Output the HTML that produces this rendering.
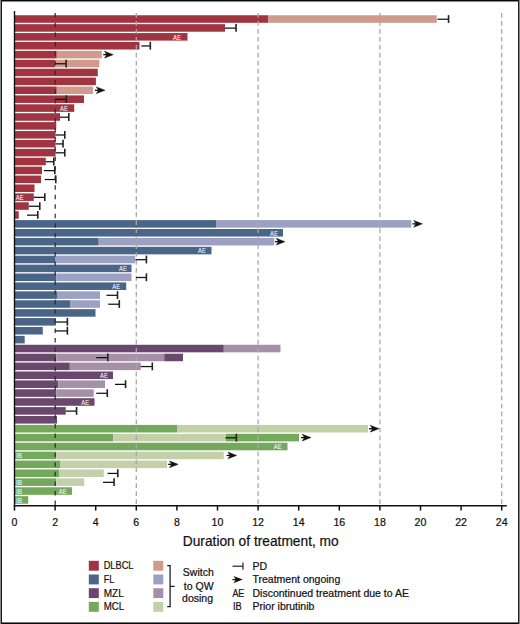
<!DOCTYPE html>
<html><head><meta charset="utf-8"><style>
html,body{margin:0;padding:0;background:#fff;}
body{width:520px;height:624px;position:relative;overflow:hidden;}
.frame{position:absolute;left:0;top:0;width:520px;height:624px;box-sizing:border-box;}
svg{position:absolute;left:0;top:0;font-family:"Liberation Sans",sans-serif;}
text.k{fill:#111;stroke:#111;stroke-width:0.22px;}
</style></head><body>
<svg width="520" height="624" viewBox="0 0 520 624">
<rect x="0" y="0" width="520" height="624" fill="#fff"/>
<rect x="14.50" y="15.25" width="253.80" height="7.55" fill="#A13441"/>
<rect x="268.30" y="15.25" width="168.45" height="7.55" fill="#CF9B8C"/>
<rect x="14.50" y="24.16" width="210.50" height="7.55" fill="#A13441"/>
<rect x="14.50" y="33.06" width="173.00" height="7.55" fill="#A13441"/>
<rect x="14.50" y="41.97" width="125.00" height="7.55" fill="#A13441"/>
<rect x="14.50" y="50.87" width="42.30" height="7.55" fill="#A13441"/>
<rect x="56.80" y="50.87" width="44.95" height="7.55" fill="#CF9B8C"/>
<rect x="14.50" y="59.78" width="40.70" height="7.55" fill="#A13441"/>
<rect x="55.20" y="59.78" width="44.20" height="7.55" fill="#CF9B8C"/>
<rect x="14.50" y="68.69" width="83.30" height="7.55" fill="#A13441"/>
<rect x="14.50" y="77.59" width="81.40" height="7.55" fill="#A13441"/>
<rect x="14.50" y="86.50" width="42.30" height="7.55" fill="#A13441"/>
<rect x="56.80" y="86.50" width="36.10" height="7.55" fill="#CF9B8C"/>
<rect x="14.50" y="95.40" width="69.50" height="7.55" fill="#A13441"/>
<rect x="14.50" y="104.31" width="59.75" height="7.55" fill="#A13441"/>
<rect x="14.50" y="113.22" width="45.50" height="7.55" fill="#A13441"/>
<rect x="14.50" y="122.12" width="41.75" height="7.55" fill="#A13441"/>
<rect x="14.50" y="131.03" width="41.00" height="7.55" fill="#A13441"/>
<rect x="14.50" y="139.93" width="41.00" height="7.55" fill="#A13441"/>
<rect x="14.50" y="148.84" width="41.00" height="7.55" fill="#A13441"/>
<rect x="14.50" y="157.75" width="31.30" height="7.55" fill="#A13441"/>
<rect x="14.50" y="166.65" width="27.50" height="7.55" fill="#A13441"/>
<rect x="14.50" y="175.56" width="26.50" height="7.55" fill="#A13441"/>
<rect x="14.50" y="184.46" width="20.00" height="7.55" fill="#A13441"/>
<rect x="14.50" y="193.37" width="19.25" height="7.55" fill="#A13441"/>
<rect x="14.50" y="202.28" width="14.25" height="7.55" fill="#A13441"/>
<rect x="14.50" y="211.18" width="4.25" height="7.55" fill="#A13441"/>
<rect x="14.50" y="220.09" width="201.50" height="7.55" fill="#4B6589"/>
<rect x="216.00" y="220.09" width="195.30" height="7.55" fill="#9CA1C3"/>
<rect x="14.50" y="228.99" width="268.50" height="7.55" fill="#4B6589"/>
<rect x="14.50" y="237.90" width="84.25" height="7.55" fill="#4B6589"/>
<rect x="98.75" y="237.90" width="175.45" height="7.55" fill="#9CA1C3"/>
<rect x="14.50" y="246.81" width="197.00" height="7.55" fill="#4B6589"/>
<rect x="14.50" y="255.71" width="40.50" height="7.55" fill="#4B6589"/>
<rect x="55.00" y="255.71" width="80.10" height="7.55" fill="#9CA1C3"/>
<rect x="14.50" y="264.62" width="117.00" height="7.55" fill="#4B6589"/>
<rect x="14.50" y="273.52" width="41.75" height="7.55" fill="#4B6589"/>
<rect x="56.25" y="273.52" width="75.25" height="7.55" fill="#9CA1C3"/>
<rect x="14.50" y="282.43" width="111.70" height="7.55" fill="#4B6589"/>
<rect x="14.50" y="291.34" width="42.50" height="7.55" fill="#4B6589"/>
<rect x="57.00" y="291.34" width="43.00" height="7.55" fill="#9CA1C3"/>
<rect x="14.50" y="300.24" width="55.50" height="7.55" fill="#4B6589"/>
<rect x="70.00" y="300.24" width="30.00" height="7.55" fill="#9CA1C3"/>
<rect x="14.50" y="309.15" width="81.00" height="7.55" fill="#4B6589"/>
<rect x="14.50" y="318.05" width="41.40" height="7.55" fill="#4B6589"/>
<rect x="14.50" y="326.96" width="28.30" height="7.55" fill="#4B6589"/>
<rect x="14.50" y="335.87" width="10.20" height="7.55" fill="#4B6589"/>
<rect x="14.50" y="344.77" width="209.30" height="7.55" fill="#6A476C"/>
<rect x="223.80" y="344.77" width="56.70" height="7.55" fill="#A690A8"/>
<rect x="14.50" y="353.68" width="41.75" height="7.55" fill="#6A476C"/>
<rect x="56.25" y="353.68" width="108.00" height="7.55" fill="#A690A8"/>
<rect x="164.25" y="353.68" width="18.75" height="7.55" fill="#6A476C"/>
<rect x="14.50" y="362.58" width="55.30" height="7.55" fill="#6A476C"/>
<rect x="69.80" y="362.58" width="70.95" height="7.55" fill="#A690A8"/>
<rect x="14.50" y="371.49" width="98.50" height="7.55" fill="#6A476C"/>
<rect x="14.50" y="380.40" width="43.75" height="7.55" fill="#6A476C"/>
<rect x="58.25" y="380.40" width="46.75" height="7.55" fill="#A690A8"/>
<rect x="14.50" y="389.30" width="41.75" height="7.55" fill="#6A476C"/>
<rect x="56.25" y="389.30" width="37.50" height="7.55" fill="#A690A8"/>
<rect x="14.50" y="398.21" width="80.00" height="7.55" fill="#6A476C"/>
<rect x="14.50" y="407.11" width="51.25" height="7.55" fill="#6A476C"/>
<rect x="14.50" y="416.02" width="42.50" height="7.55" fill="#6A476C"/>
<rect x="14.50" y="424.93" width="163.00" height="7.55" fill="#74A85C"/>
<rect x="177.50" y="424.93" width="190.50" height="7.55" fill="#C4D0A9"/>
<rect x="14.50" y="433.83" width="98.70" height="7.55" fill="#74A85C"/>
<rect x="113.20" y="433.83" width="112.80" height="7.55" fill="#C4D0A9"/>
<rect x="226.00" y="433.83" width="73.00" height="7.55" fill="#74A85C"/>
<rect x="14.50" y="442.74" width="273.00" height="7.55" fill="#74A85C"/>
<rect x="14.50" y="451.64" width="41.75" height="7.55" fill="#74A85C"/>
<rect x="56.25" y="451.64" width="167.50" height="7.55" fill="#C4D0A9"/>
<rect x="14.50" y="460.55" width="46.00" height="7.55" fill="#74A85C"/>
<rect x="60.50" y="460.55" width="106.50" height="7.55" fill="#C4D0A9"/>
<rect x="14.50" y="469.46" width="44.75" height="7.55" fill="#74A85C"/>
<rect x="59.25" y="469.46" width="44.50" height="7.55" fill="#C4D0A9"/>
<rect x="14.50" y="478.36" width="41.75" height="7.55" fill="#74A85C"/>
<rect x="56.25" y="478.36" width="28.00" height="7.55" fill="#C4D0A9"/>
<rect x="14.50" y="487.27" width="57.50" height="7.55" fill="#74A85C"/>
<rect x="14.50" y="496.17" width="13.75" height="7.55" fill="#74A85C"/>
<line x1="136.30" y1="13.0" x2="136.30" y2="505" stroke="#a8a8a8" stroke-width="1.3" stroke-dasharray="4.7 3.272"/>
<line x1="258.10" y1="13.0" x2="258.10" y2="505" stroke="#a8a8a8" stroke-width="1.3" stroke-dasharray="4.7 3.272"/>
<line x1="379.90" y1="13.0" x2="379.90" y2="505" stroke="#a8a8a8" stroke-width="1.3" stroke-dasharray="4.7 3.272"/>
<line x1="501.70" y1="13.0" x2="501.70" y2="505" stroke="#a8a8a8" stroke-width="1.3" stroke-dasharray="4.7 3.272"/>
<line x1="55.2" y1="13.1" x2="55.2" y2="505" stroke="#2a2a2a" stroke-width="1.2" stroke-dasharray="4.5 5.057"/>
<line x1="437.50" y1="19.22" x2="448.55" y2="19.22" stroke="#111" stroke-width="1.25"/>
<line x1="448.55" y1="15.12" x2="448.55" y2="22.92" stroke="#222" stroke-width="1.6"/>
<line x1="225.00" y1="28.13" x2="236.05" y2="28.13" stroke="#111" stroke-width="1.25"/>
<line x1="236.05" y1="24.03" x2="236.05" y2="31.83" stroke="#222" stroke-width="1.6"/>
<text x="173.00" y="39.69" font-size="7.6" fill="#fff" textLength="7.8" lengthAdjust="spacingAndGlyphs">AE</text>
<line x1="141.25" y1="45.94" x2="150.30" y2="45.94" stroke="#111" stroke-width="1.25"/>
<line x1="150.30" y1="41.84" x2="150.30" y2="49.64" stroke="#222" stroke-width="1.6"/>
<line x1="103.20" y1="54.65" x2="107.20" y2="54.65" stroke="#111" stroke-width="1.3"/>
<path d="M104.55 51.30 L113.20 54.65 L104.55 58.00 L106.80 54.65 Z" fill="#111" stroke="#111" stroke-width="0.5" stroke-linejoin="round"/>
<line x1="55.30" y1="63.76" x2="66.10" y2="63.76" stroke="#111" stroke-width="1.25"/>
<line x1="66.10" y1="59.66" x2="66.10" y2="67.45" stroke="#222" stroke-width="1.6"/>
<line x1="95.00" y1="90.27" x2="99.00" y2="90.27" stroke="#111" stroke-width="1.3"/>
<path d="M96.35 86.92 L105.00 90.27 L96.35 93.62 L98.60 90.27 Z" fill="#111" stroke="#111" stroke-width="0.5" stroke-linejoin="round"/>
<line x1="55.30" y1="99.38" x2="66.30" y2="99.38" stroke="#111" stroke-width="1.25"/>
<line x1="66.30" y1="95.28" x2="66.30" y2="103.08" stroke="#222" stroke-width="1.6"/>
<text x="60.00" y="110.94" font-size="7.6" fill="#fff" textLength="7.8" lengthAdjust="spacingAndGlyphs">AE</text>
<line x1="60.00" y1="117.19" x2="68.80" y2="117.19" stroke="#111" stroke-width="1.25"/>
<line x1="68.80" y1="113.09" x2="68.80" y2="120.89" stroke="#222" stroke-width="1.6"/>
<line x1="55.50" y1="135.00" x2="64.80" y2="135.00" stroke="#111" stroke-width="1.25"/>
<line x1="64.80" y1="130.90" x2="64.80" y2="138.70" stroke="#222" stroke-width="1.6"/>
<line x1="55.50" y1="143.91" x2="63.05" y2="143.91" stroke="#111" stroke-width="1.25"/>
<line x1="63.05" y1="139.81" x2="63.05" y2="147.61" stroke="#222" stroke-width="1.6"/>
<line x1="55.50" y1="152.81" x2="64.80" y2="152.81" stroke="#111" stroke-width="1.25"/>
<line x1="64.80" y1="148.72" x2="64.80" y2="156.52" stroke="#222" stroke-width="1.6"/>
<line x1="45.80" y1="161.72" x2="53.80" y2="161.72" stroke="#111" stroke-width="1.25"/>
<line x1="53.80" y1="157.62" x2="53.80" y2="165.42" stroke="#222" stroke-width="1.6"/>
<line x1="43.80" y1="170.63" x2="54.80" y2="170.63" stroke="#111" stroke-width="1.25"/>
<line x1="54.80" y1="166.53" x2="54.80" y2="174.33" stroke="#222" stroke-width="1.6"/>
<line x1="44.80" y1="179.53" x2="55.80" y2="179.53" stroke="#111" stroke-width="1.25"/>
<line x1="55.80" y1="175.43" x2="55.80" y2="183.23" stroke="#222" stroke-width="1.6"/>
<text x="15.80" y="200.00" font-size="7.6" fill="#fff" textLength="7.8" lengthAdjust="spacingAndGlyphs">AE</text>
<line x1="33.75" y1="197.34" x2="44.80" y2="197.34" stroke="#111" stroke-width="1.25"/>
<line x1="44.80" y1="193.25" x2="44.80" y2="201.05" stroke="#222" stroke-width="1.6"/>
<line x1="28.75" y1="206.25" x2="39.80" y2="206.25" stroke="#111" stroke-width="1.25"/>
<line x1="39.80" y1="202.15" x2="39.80" y2="209.95" stroke="#222" stroke-width="1.6"/>
<line x1="27.00" y1="215.16" x2="37.80" y2="215.16" stroke="#111" stroke-width="1.25"/>
<line x1="37.80" y1="211.06" x2="37.80" y2="218.86" stroke="#222" stroke-width="1.6"/>
<line x1="412.40" y1="223.86" x2="416.40" y2="223.86" stroke="#111" stroke-width="1.3"/>
<path d="M413.75 220.51 L422.40 223.86 L413.75 227.21 L416.00 223.86 Z" fill="#111" stroke="#111" stroke-width="0.5" stroke-linejoin="round"/>
<text x="270.00" y="235.62" font-size="7.6" fill="#fff" textLength="7.8" lengthAdjust="spacingAndGlyphs">AE</text>
<line x1="274.90" y1="241.68" x2="278.90" y2="241.68" stroke="#111" stroke-width="1.3"/>
<path d="M276.25 238.33 L284.90 241.68 L276.25 245.03 L278.50 241.68 Z" fill="#111" stroke="#111" stroke-width="0.5" stroke-linejoin="round"/>
<text x="198.00" y="253.43" font-size="7.6" fill="#fff" textLength="7.8" lengthAdjust="spacingAndGlyphs">AE</text>
<line x1="135.30" y1="259.69" x2="146.40" y2="259.69" stroke="#111" stroke-width="1.25"/>
<line x1="146.40" y1="255.59" x2="146.40" y2="263.39" stroke="#222" stroke-width="1.6"/>
<text x="119.00" y="271.24" font-size="7.6" fill="#fff" textLength="7.8" lengthAdjust="spacingAndGlyphs">AE</text>
<line x1="136.20" y1="277.50" x2="146.40" y2="277.50" stroke="#111" stroke-width="1.25"/>
<line x1="146.40" y1="273.40" x2="146.40" y2="281.20" stroke="#222" stroke-width="1.6"/>
<text x="112.30" y="289.06" font-size="7.6" fill="#fff" textLength="7.8" lengthAdjust="spacingAndGlyphs">AE</text>
<line x1="106.50" y1="295.31" x2="117.50" y2="295.31" stroke="#111" stroke-width="1.25"/>
<line x1="117.50" y1="291.21" x2="117.50" y2="299.01" stroke="#222" stroke-width="1.6"/>
<line x1="108.20" y1="304.22" x2="119.30" y2="304.22" stroke="#111" stroke-width="1.25"/>
<line x1="119.30" y1="300.12" x2="119.30" y2="307.92" stroke="#222" stroke-width="1.6"/>
<line x1="55.90" y1="322.03" x2="67.40" y2="322.03" stroke="#111" stroke-width="1.25"/>
<line x1="67.40" y1="317.93" x2="67.40" y2="325.73" stroke="#222" stroke-width="1.6"/>
<line x1="55.30" y1="330.94" x2="67.40" y2="330.94" stroke="#111" stroke-width="1.25"/>
<line x1="67.40" y1="326.84" x2="67.40" y2="334.63" stroke="#222" stroke-width="1.6"/>
<line x1="96.25" y1="357.65" x2="107.80" y2="357.65" stroke="#111" stroke-width="1.25"/>
<line x1="107.80" y1="353.55" x2="107.80" y2="361.35" stroke="#222" stroke-width="1.6"/>
<line x1="140.75" y1="366.56" x2="152.30" y2="366.56" stroke="#111" stroke-width="1.25"/>
<line x1="152.30" y1="362.46" x2="152.30" y2="370.26" stroke="#222" stroke-width="1.6"/>
<text x="100.00" y="378.12" font-size="7.6" fill="#fff" textLength="7.8" lengthAdjust="spacingAndGlyphs">AE</text>
<line x1="115.00" y1="384.37" x2="125.55" y2="384.37" stroke="#111" stroke-width="1.25"/>
<line x1="125.55" y1="380.27" x2="125.55" y2="388.07" stroke="#222" stroke-width="1.6"/>
<line x1="96.25" y1="393.28" x2="107.30" y2="393.28" stroke="#111" stroke-width="1.25"/>
<line x1="107.30" y1="389.18" x2="107.30" y2="396.98" stroke="#222" stroke-width="1.6"/>
<text x="81.25" y="404.83" font-size="7.6" fill="#fff" textLength="7.8" lengthAdjust="spacingAndGlyphs">AE</text>
<line x1="65.75" y1="411.09" x2="76.55" y2="411.09" stroke="#111" stroke-width="1.25"/>
<line x1="76.55" y1="406.99" x2="76.55" y2="414.79" stroke="#222" stroke-width="1.6"/>
<line x1="369.00" y1="428.70" x2="373.00" y2="428.70" stroke="#111" stroke-width="1.3"/>
<path d="M370.35 425.35 L379.00 428.70 L370.35 432.05 L372.60 428.70 Z" fill="#111" stroke="#111" stroke-width="0.5" stroke-linejoin="round"/>
<line x1="225.40" y1="437.81" x2="236.35" y2="437.81" stroke="#111" stroke-width="1.25"/>
<line x1="236.35" y1="433.71" x2="236.35" y2="441.51" stroke="#222" stroke-width="1.6"/>
<line x1="300.90" y1="437.61" x2="304.90" y2="437.61" stroke="#111" stroke-width="1.3"/>
<path d="M302.25 434.26 L310.90 437.61 L302.25 440.96 L304.50 437.61 Z" fill="#111" stroke="#111" stroke-width="0.5" stroke-linejoin="round"/>
<text x="273.75" y="449.36" font-size="7.6" fill="#fff" textLength="7.8" lengthAdjust="spacingAndGlyphs">AE</text>
<text x="16.0" y="458.22" font-size="7.4" fill="#fff" textLength="6.1" lengthAdjust="spacingAndGlyphs">IB</text>
<line x1="226.60" y1="455.42" x2="230.60" y2="455.42" stroke="#111" stroke-width="1.3"/>
<path d="M227.95 452.07 L236.60 455.42 L227.95 458.77 L230.20 455.42 Z" fill="#111" stroke="#111" stroke-width="0.5" stroke-linejoin="round"/>
<line x1="168.10" y1="464.32" x2="172.10" y2="464.32" stroke="#111" stroke-width="1.3"/>
<path d="M169.45 460.97 L178.10 464.32 L169.45 467.68 L171.70 464.32 Z" fill="#111" stroke="#111" stroke-width="0.5" stroke-linejoin="round"/>
<line x1="107.50" y1="473.43" x2="117.80" y2="473.43" stroke="#111" stroke-width="1.25"/>
<line x1="117.80" y1="469.33" x2="117.80" y2="477.13" stroke="#222" stroke-width="1.6"/>
<text x="16.0" y="484.94" font-size="7.4" fill="#fff" textLength="6.1" lengthAdjust="spacingAndGlyphs">IB</text>
<line x1="103.00" y1="482.34" x2="114.05" y2="482.34" stroke="#111" stroke-width="1.25"/>
<line x1="114.05" y1="478.24" x2="114.05" y2="486.04" stroke="#222" stroke-width="1.6"/>
<text x="16.0" y="493.84" font-size="7.4" fill="#fff" textLength="6.1" lengthAdjust="spacingAndGlyphs">IB</text>
<text x="58.75" y="493.89" font-size="7.6" fill="#fff" textLength="7.8" lengthAdjust="spacingAndGlyphs">AE</text>
<text x="16.0" y="502.75" font-size="7.4" fill="#fff" textLength="6.1" lengthAdjust="spacingAndGlyphs">IB</text>
<line x1="14.5" y1="11.6" x2="14.5" y2="506.2" stroke="#111" stroke-width="1.4" stroke-linecap="round"/>
<line x1="13.8" y1="505.8" x2="506.8" y2="505.8" stroke="#111" stroke-width="1.6"/>
<line x1="14.50" y1="505.8" x2="14.50" y2="510.6" stroke="#111" stroke-width="1.5"/>
<text x="14.50" y="525.7" font-size="10.6" text-anchor="middle" class="k">0</text>
<line x1="55.10" y1="505.8" x2="55.10" y2="510.6" stroke="#111" stroke-width="1.5"/>
<text x="55.10" y="525.7" font-size="10.6" text-anchor="middle" class="k">2</text>
<line x1="95.70" y1="505.8" x2="95.70" y2="510.6" stroke="#111" stroke-width="1.5"/>
<text x="95.70" y="525.7" font-size="10.6" text-anchor="middle" class="k">4</text>
<line x1="136.30" y1="505.8" x2="136.30" y2="510.6" stroke="#111" stroke-width="1.5"/>
<text x="136.30" y="525.7" font-size="10.6" text-anchor="middle" class="k">6</text>
<line x1="176.90" y1="505.8" x2="176.90" y2="510.6" stroke="#111" stroke-width="1.5"/>
<text x="176.90" y="525.7" font-size="10.6" text-anchor="middle" class="k">8</text>
<line x1="217.50" y1="505.8" x2="217.50" y2="510.6" stroke="#111" stroke-width="1.5"/>
<text x="217.50" y="525.7" font-size="10.6" text-anchor="middle" class="k">10</text>
<line x1="258.10" y1="505.8" x2="258.10" y2="510.6" stroke="#111" stroke-width="1.5"/>
<text x="258.10" y="525.7" font-size="10.6" text-anchor="middle" class="k">12</text>
<line x1="298.70" y1="505.8" x2="298.70" y2="510.6" stroke="#111" stroke-width="1.5"/>
<text x="298.70" y="525.7" font-size="10.6" text-anchor="middle" class="k">14</text>
<line x1="339.30" y1="505.8" x2="339.30" y2="510.6" stroke="#111" stroke-width="1.5"/>
<text x="339.30" y="525.7" font-size="10.6" text-anchor="middle" class="k">16</text>
<line x1="379.90" y1="505.8" x2="379.90" y2="510.6" stroke="#111" stroke-width="1.5"/>
<text x="379.90" y="525.7" font-size="10.6" text-anchor="middle" class="k">18</text>
<line x1="420.50" y1="505.8" x2="420.50" y2="510.6" stroke="#111" stroke-width="1.5"/>
<text x="420.50" y="525.7" font-size="10.6" text-anchor="middle" class="k">20</text>
<line x1="461.10" y1="505.8" x2="461.10" y2="510.6" stroke="#111" stroke-width="1.5"/>
<text x="461.10" y="525.7" font-size="10.6" text-anchor="middle" class="k">22</text>
<line x1="501.70" y1="505.8" x2="501.70" y2="510.6" stroke="#111" stroke-width="1.5"/>
<text x="501.70" y="525.7" font-size="10.6" text-anchor="middle" class="k">24</text>
<text x="182.8" y="546.3" font-size="13.76" class="k">Duration of treatment, mo</text>
<rect x="88.8" y="560.80" width="10" height="9.9" fill="#A13441"/>
<rect x="153.3" y="560.80" width="10" height="9.9" fill="#CF9B8C"/>
<text x="103.7" y="569.15" font-size="11" class="k" textLength="29.8" lengthAdjust="spacingAndGlyphs">DLBCL</text>
<rect x="88.8" y="574.50" width="10" height="9.9" fill="#4B6589"/>
<rect x="153.3" y="574.50" width="10" height="9.9" fill="#9CA1C3"/>
<text x="103.7" y="582.85" font-size="11" class="k" textLength="10.6" lengthAdjust="spacingAndGlyphs">FL</text>
<rect x="88.8" y="588.20" width="10" height="9.9" fill="#6A476C"/>
<rect x="153.3" y="588.20" width="10" height="9.9" fill="#A690A8"/>
<text x="103.7" y="596.55" font-size="11" class="k" textLength="20.0" lengthAdjust="spacingAndGlyphs">MZL</text>
<rect x="88.8" y="601.90" width="10" height="9.9" fill="#74A85C"/>
<rect x="153.3" y="601.90" width="10" height="9.9" fill="#C4D0A9"/>
<text x="103.7" y="610.25" font-size="11" class="k" textLength="20.4" lengthAdjust="spacingAndGlyphs">MCL</text>
<path d="M167.2 565.6 H170.1 V606.6 H167.2 M170.1 586.3 H174.6" stroke="#1a1a1a" stroke-width="1.25" fill="none"/>
<text x="198.3" y="575.8" font-size="10.5" text-anchor="middle" class="k">Switch</text>
<text x="198.7" y="589.7" font-size="10.5" text-anchor="middle" class="k">to QW</text>
<text x="197.6" y="601.8" font-size="10.5" text-anchor="middle" class="k">dosing</text>
<line x1="232.5" y1="566.2" x2="243" y2="566.2" stroke="#222" stroke-width="1.2"/>
<line x1="243" y1="562.5" x2="243" y2="569.8" stroke="#222" stroke-width="1.2"/>
<line x1="232.5" y1="579.6" x2="236" y2="579.6" stroke="#111" stroke-width="1.3"/>
<path d="M233.4 575.9 L242.8 579.6 L233.4 583.3000000000001 L235.9 579.6 Z" fill="#111"/>
<text x="232.4" y="596.8" font-size="10.5" class="k" textLength="11.9" lengthAdjust="spacingAndGlyphs">AE</text>
<text x="233" y="610.2" font-size="10.5" class="k" textLength="8.7" lengthAdjust="spacingAndGlyphs">IB</text>
<text x="252.5" y="569.6" font-size="10.5" class="k">PD</text>
<text x="252.5" y="583.2" font-size="10.5" class="k">Treatment ongoing</text>
<text x="252.5" y="596.8" font-size="10.5" class="k">Discontinued treatment due to AE</text>
<text x="252.5" y="610.2" font-size="10.5" class="k">Prior ibrutinib</text>
<rect x="0" y="0" width="520" height="1" fill="#0a0a0a"/>
<rect x="0" y="1" width="520" height="1" fill="#8a8a8a"/>
<rect x="0" y="622" width="520" height="1" fill="#777"/>
<rect x="0" y="623" width="520" height="1" fill="#0a0a0a"/>
<rect x="0" y="0" width="1" height="624" fill="#8a8a8a"/>
<rect x="1" y="0" width="1" height="624" fill="#1a1a1a"/>
<rect x="518" y="0" width="1" height="624" fill="#222"/>
<rect x="519" y="0" width="1" height="624" fill="#868686"/>
</svg>
</body></html>
